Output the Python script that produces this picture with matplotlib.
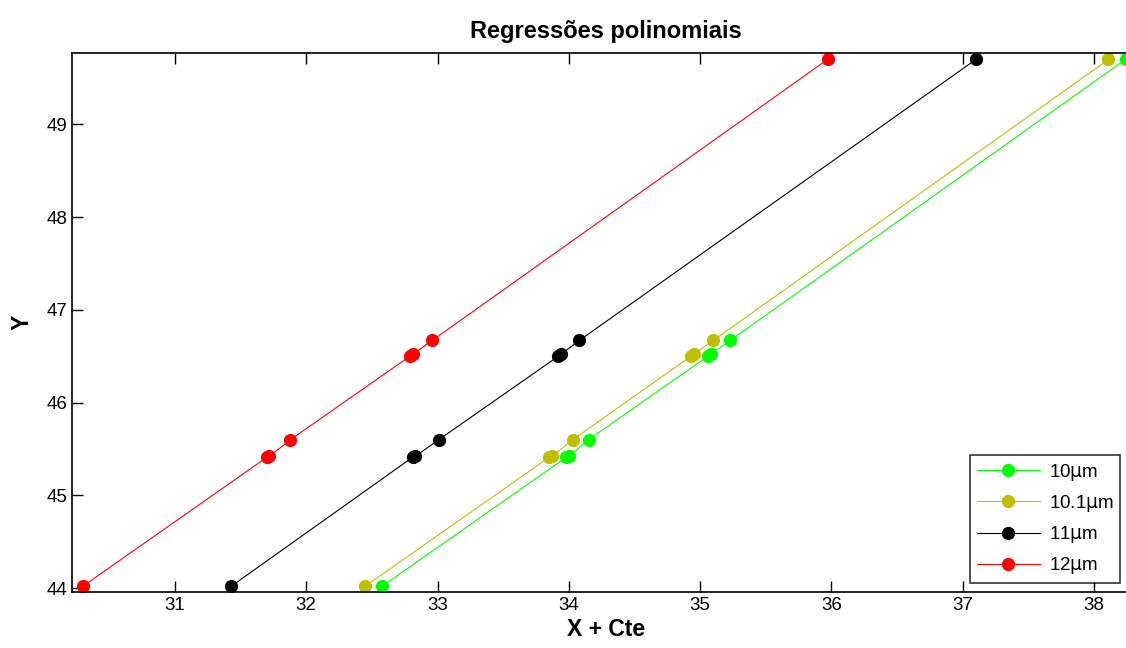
import matplotlib
matplotlib.use("Agg")
import matplotlib.pyplot as plt

plt.rcParams["font.family"] = ["Liberation Sans", "DejaVu Sans"]

# Y values shared by all four series
Y = [44.02, 45.41, 45.42, 45.60, 46.50, 46.52, 46.67, 49.70]

# X + Cte values per wavelength
X_10 = [32.58, 33.98, 34.00, 34.15, 35.06, 35.08, 35.23, 38.24]
X_101 = [32.45, 33.85, 33.87, 34.03, 34.93, 34.95, 35.10, 38.11]
X_11 = [31.43, 32.81, 32.83, 33.01, 33.92, 33.94, 34.08, 37.10]
X_12 = [30.30, 31.70, 31.72, 31.88, 32.79, 32.81, 32.96, 35.97]

LABELS = ["10$\\mathrm{\\mu}$m", "10.1$\\mathrm{\\mu}$m", "11$\\mathrm{\\mu}$m", "12$\\mathrm{\\mu}$m"]
COLORS = ["#00ff00", "#bfbf00", "#000000", "#ff0000"]


def main():
    fig = plt.figure(figsize=(11.26, 6.48), dpi=100)
    # axes runs slightly past the right edge, as in the original
    ax = fig.add_axes([72 / 1126, 56 / 648, (1140 - 72) / 1126, (592 - 53) / 648])

    for xs, lab, col in zip([X_10, X_101, X_11, X_12], LABELS, COLORS):
        ax.plot(xs, Y, "-", color=col, lw=0.8, marker="o", ms=8.5,
                mec=col, mfc=col, label=lab)

    ax.set_xlim(30.216, 38.35)
    ax.set_ylim(43.957, 49.77)
    ax.set_xticks([31, 32, 33, 34, 35, 36, 37, 38])
    ax.set_yticks([44, 45, 46, 47, 48, 49])
    ax.tick_params(direction="in", top=True, right=False, labelsize=13.5,
                   length=8, width=1)
    for s in ax.spines.values():
        s.set_linewidth(1.2)

    ax.set_title("Regressões polinomiais", fontsize=17, fontweight="bold", pad=11)
    ax.set_xlabel("X + Cte", fontsize=16.5, fontweight="bold", labelpad=3)
    ax.set_ylabel("Y", fontsize=16.5, fontweight="bold", labelpad=9)

    leg = ax.legend(loc="upper left", bbox_to_anchor=(970 / 1126, 1 - 455 / 648),
                    bbox_transform=fig.transFigure, fontsize=13.5, frameon=True,
                    fancybox=False, edgecolor="black", borderaxespad=0,
                    handlelength=3.4, handletextpad=0.45, labelspacing=0.55,
                    borderpad=0.35)
    leg.get_frame().set_linewidth(1.2)

    fig.savefig("out.png", dpi=100)


if __name__ == "__main__":
    main()
